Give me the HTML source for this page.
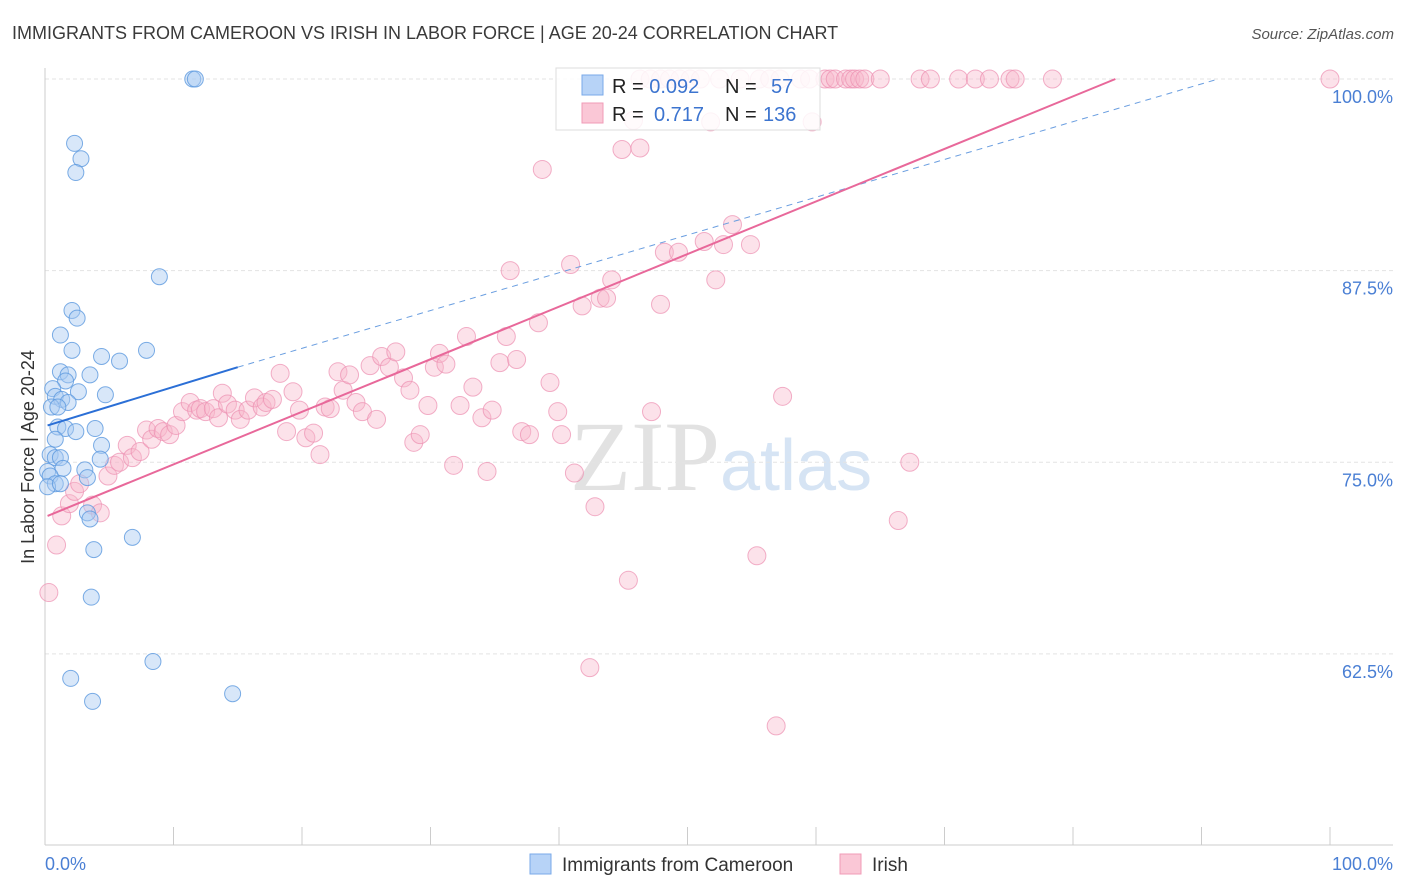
<!DOCTYPE html>
<html><head><meta charset="utf-8"><style>
body{margin:0;background:#fff;font-family:"Liberation Sans",sans-serif;}
svg{display:block}
</style></head><body>
<svg id="c" width="1406" height="892">
<text x="12" y="39" font-size="18" fill="#3a3a3a">IMMIGRANTS FROM CAMEROON VS IRISH IN LABOR FORCE | AGE 20-24 CORRELATION CHART</text>
<text x="1394" y="39" font-size="15" fill="#555" font-style="italic" text-anchor="end">Source: ZipAtlas.com</text>
<text x="720" y="490" font-size="100" fill="#e2e2e2" font-family="Liberation Serif" text-anchor="end">ZIP</text>
<text x="720" y="490" font-size="72" fill="#d6e4f4">atlas</text>
<g id="grid"></g><g id="axes"></g><g id="pts"></g><g id="lines"></g>
<text transform="translate(34,457) rotate(-90)" font-size="18" fill="#333" text-anchor="middle">In Labor Force | Age 20-24</text>
<g>
<rect x="556" y="68" width="264" height="62" fill="#fff" fill-opacity="0.85" stroke="#ddd"/>
<rect x="582" y="75" width="21" height="20" fill="#b7d3f7" stroke="#7aaae8"/>
<rect x="582" y="103" width="21" height="20" fill="#fac7d6" stroke="#f09bb7"/>
<text x="612" y="93" font-size="20" fill="#222">R = <tspan fill="#3c74cf">0.092</tspan><tspan x="725">N = </tspan><tspan x="771" fill="#3c74cf">57</tspan></text>
<text x="612" y="121" font-size="20" fill="#222">R = <tspan x="654" fill="#3c74cf">0.717</tspan><tspan x="725">N = </tspan><tspan x="763" fill="#3c74cf">136</tspan></text>
</g>
<g>
<rect x="530" y="854" width="21" height="20" fill="#b7d3f7" stroke="#7aaae8"/>
<text x="562" y="871" font-size="19" fill="#333">Immigrants from Cameroon</text>
<rect x="840" y="854" width="21" height="20" fill="#fac7d6" stroke="#f09bb7"/>
<text x="872" y="871" font-size="19" fill="#333">Irish</text>
</g>
</svg>
<script>
const yTicks=[62.5,75,87.5,100];
const blueX=[11.5,11.7,2.3,2.8,2.4,8.9,2.1,2.5,1.2,2.1,4.4,5.8,7.9,1.2,1.8,1.6,3.5,0.6,2.6,4.7,0.8,1.3,1.8,0.5,1,3.9,1,1.6,2.4,0.8,4.4,0.4,0.8,1.2,4.3,0.2,1.4,0.4,3.1,3.3,0.8,0.2,1.2,3.3,3.5,6.8,3.8,3.6,8.4,2,3.7,14.6];
const blueY=[100,100,95.8,94.8,93.9,87.1,84.9,84.4,83.3,82.3,81.9,81.6,82.3,80.9,80.7,80.3,80.7,79.8,79.6,79.4,79.3,79.1,78.9,78.6,78.6,77.2,77.3,77.2,77,76.5,76.1,75.5,75.3,75.3,75.2,74.4,74.6,74.1,74.5,74,73.6,73.4,73.6,71.7,71.3,70.1,69.3,66.2,62,60.9,59.4,59.9];
const pinkX=[
0.3,0.9,1.3,1.9,2.3,2.7,3.7,4.3,4.9,5.4,
5.8,6.4,6.8,7.4,7.9,8.3,8.8,9.2,9.7,10.2,
10.7,11.3,11.8,12.1,12.5,13.1,13.5,13.8,14.2,14.8,
15.2,15.8,16.3,16.9,17.2,17.7,18.3,18.8,19.3,19.8,
20.3,20.9,21.4,21.8,22.2,22.8,23.2,23.7,24.2,24.7,
25.3,25.8,26.2,26.8,27.3,27.9,28.4,28.7,29.2,29.8,
30.3,30.7,31.2,31.8,32.3,32.8,33.3,34.0,34.4,34.8,
35.4,35.9,36.2,36.7,37.1,37.7,38.4,38.7,39.3,39.9,
40.2,40.9,41.2,41.8,42.4,42.8,43.2,43.7,44.1,44.9,
45.4,45.8,46.3,47.2,47.9,48.2,49.3,51.3,51.8,52.2,
52.8,53.5,54.9,55.4,56.9,57.4,59.7,66.4,67.3,
46.3,47.1,47.9,48.6,49.4,50.2,51,52.5,54.1,55.6,
56.4,57.2,58.8,59.5,60.7,61.1,61.5,62.3,62.7,63,
63.4,63.8,65,68.1,68.9,71.1,72.4,73.5,75.1,75.5,
78.4,100];
const pinkY=[
66.5,69.6,71.5,72.3,73.1,73.6,72.2,71.7,74.1,74.8,
75.0,76.1,75.3,75.7,77.1,76.5,77.2,77.0,76.8,77.4,
78.3,78.9,78.4,78.5,78.3,78.5,77.9,79.5,78.8,78.4,
77.8,78.4,79.2,78.6,78.9,79.1,80.8,77.0,79.6,78.4,
76.6,76.9,75.5,78.6,78.5,80.9,79.7,80.7,78.9,78.3,
81.3,77.8,81.9,81.2,82.2,80.5,79.7,76.3,76.8,78.7,
81.2,82.1,81.4,74.8,78.7,83.2,79.9,77.9,74.4,78.4,
81.5,83.2,87.5,81.7,77.0,76.8,84.1,94.1,80.2,78.3,
76.8,87.9,74.3,85.2,61.6,72.1,85.7,85.7,86.9,95.4,
67.3,97.3,95.5,78.3,85.3,88.7,88.7,89.4,97.2,86.9,
89.2,90.5,89.2,68.9,57.8,79.3,97.2,71.2,75.0,
100,100,100,100,100,100,100,100,100,100,
100,100,100,100,100,100,100,100,100,100,
100,100,100,100,100,100,100,100,100,100,
100,100];
const blueLine=[[0.2,77.4],[15,81.2]],blueDash=[[15,81.2],[91.3,100]];
const pinkLine=[[0.2,71.5],[83.3,100]];
const X=v=>45+v*12.85, Y=v=>79+(100-v)*15.33;
const NS='http://www.w3.org/2000/svg';
function mk(t,a,p){const e=document.createElementNS(NS,t);for(const k in a)e.setAttribute(k,a[k]);document.getElementById(p).appendChild(e);return e;}
yTicks.forEach(t=>{
 const g=mk('line',{x1:45,x2:1393,y1:Y(t),y2:Y(t),stroke:'#e3e3e3','stroke-dasharray':'4,3'},'grid');
 
 
 const l=mk('text',{x:1393,y:Y(t)+24,'font-size':18,fill:'#4a7fd4','text-anchor':'end'},'axes');
 l.textContent=t.toFixed(1)+'%';
 
 
});
mk('line',{x1:45,x2:45,y1:68,y2:845,stroke:'#ccc'},'axes');
mk('line',{x1:45,x2:1393,y1:845,y2:845,stroke:'#ccc'},'axes');
for(let k=1;k<=10;k++){mk('line',{x1:X(k*10),x2:X(k*10),y1:827,y2:845,stroke:'#ccc'},'axes');}
const x0=mk('text',{x:45,y:870,'font-size':18,fill:'#4a7fd4'},'axes');x0.textContent='0.0%';


const x1=mk('text',{x:1393,y:870,'font-size':18,fill:'#4a7fd4','text-anchor':'end'},'axes');x1.textContent='100.0%';


pinkX.forEach((v,i)=>{const c=mk('circle',{cx:X(v),cy:Y(pinkY[i]),r:9,fill:'#f7b6cb','fill-opacity':0.4,stroke:'#ec8fb0','stroke-opacity':0.7},'pts');
 
 });
blueX.forEach((v,i)=>{const c=mk('circle',{cx:X(v),cy:Y(blueY[i]),r:8,fill:'#a9c9f2','fill-opacity':0.45,stroke:'#5b98df','stroke-opacity':0.8},'pts');
 
 });
const bl=mk('line',{x1:X(blueLine[0][0]),y1:Y(blueLine[0][1]),x2:X(blueLine[1][0]),y2:Y(blueLine[1][1]),stroke:'#2b6fd6','stroke-width':2},'lines');


const bd=mk('line',{x1:X(blueDash[0][0]),y1:Y(blueDash[0][1]),x2:X(blueDash[1][0]),y2:Y(blueDash[1][1]),stroke:'#6a9ee0','stroke-width':1,'stroke-dasharray':'6,5'},'lines');


const pl=mk('line',{x1:X(pinkLine[0][0]),y1:Y(pinkLine[0][1]),x2:X(pinkLine[1][0]),y2:Y(pinkLine[1][1]),stroke:'#e8689a','stroke-width':2},'lines');


</script>
</body></html>
